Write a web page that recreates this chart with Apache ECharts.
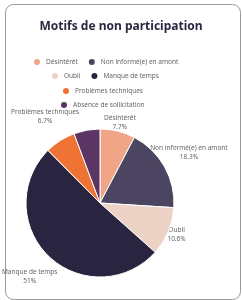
<!DOCTYPE html>
<html><head><meta charset="utf-8">
<script src="https://cdn.jsdelivr.net/npm/echarts@6/dist/echarts.min.js"></script>
<style>html,body{margin:0;padding:0;background:#fff}#c{width:242px;height:300px}</style>
</head><body><div id="c"></div>
<script>
const title = 'Motifs de non participation';
const categories = ['Désintérêt', 'Non informé(e) en amont', 'Oubli', 'Manque de temps', 'Problèmes techniques', 'Absence de sollicitation'];
const values = [7.7, 18.3, 10.6, 51, 6.7, 5.7];
const colors = ['#F0A686', '#4B4561', '#EDD2C6', '#29243F', '#EE7334', '#5B3665'];

// layout config (not data)
const legendRows = [[0, 1], [2, 3], [4], [5]];
const legendLeft = [32, 50, 61, 59];
const legendTop = [57, 71, 86, 100];
const nearLabels = [0, 2];
const farLabels = [1, 3, 4];
const font = 'Noto Sans';
const textColor = '#666';

const chart = echarts.init(document.getElementById('c'), null, {renderer: 'canvas'});

function ghost(radius, shown) {
  return {
    type: 'pie', silent: true, radius: [0, radius], center: [100, 203],
    startAngle: 90, clockwise: true, z: 1,
    emphasis: {disabled: true},
    itemStyle: {color: 'rgba(0,0,0,0)'},
    labelLine: {show: false},
    data: categories.map((n, i) => ({
      name: n, value: values[i],
      itemStyle: {color: 'rgba(0,0,0,0)', borderWidth: 0},
      label: {show: shown.includes(i)}
    })),
    label: {
      position: 'inside', formatter: '{b}\n{c}%', fontFamily: font,
      fontSize: 6.5, lineHeight: 9, color: textColor, align: 'center'
    }
  };
}

chart.setOption({
  animation: false,
  color: colors,
  title: {
    text: title, left: 'center', top: 16,
    textStyle: {fontFamily: font, fontWeight: 'bold', fontSize: 12, color: '#2B2740'}
  },
  graphic: [{
    type: 'rect', left: 3, top: 2, shape: {width: 235, height: 295, r: 8},
    style: {fill: 'none', stroke: '#999', lineWidth: 1}, silent: true
  }],
  legend: legendRows.map((row, k) => ({
    data: row.map(i => categories[i]),
    left: legendLeft[k], top: legendTop[k], padding: 0,
    icon: 'circle', itemWidth: 8, itemHeight: 8, itemGap: 9,
    selectedMode: false,
    textStyle: {fontFamily: font, fontSize: 6.5, color: textColor}
  })),
  series: [
    {
      type: 'pie', radius: [0, 74], center: [100, 203], startAngle: 90, clockwise: true,
      z: 2, silent: true,
      itemStyle: {borderColor: '#fff', borderWidth: 1},
      label: {show: false}, labelLine: {show: false},
      data: categories.map((n, i) => ({name: n, value: values[i]}))
    },
    ghost(160, nearLabels),
    ghost(198, farLabels)
  ]
});
</script></body></html>
